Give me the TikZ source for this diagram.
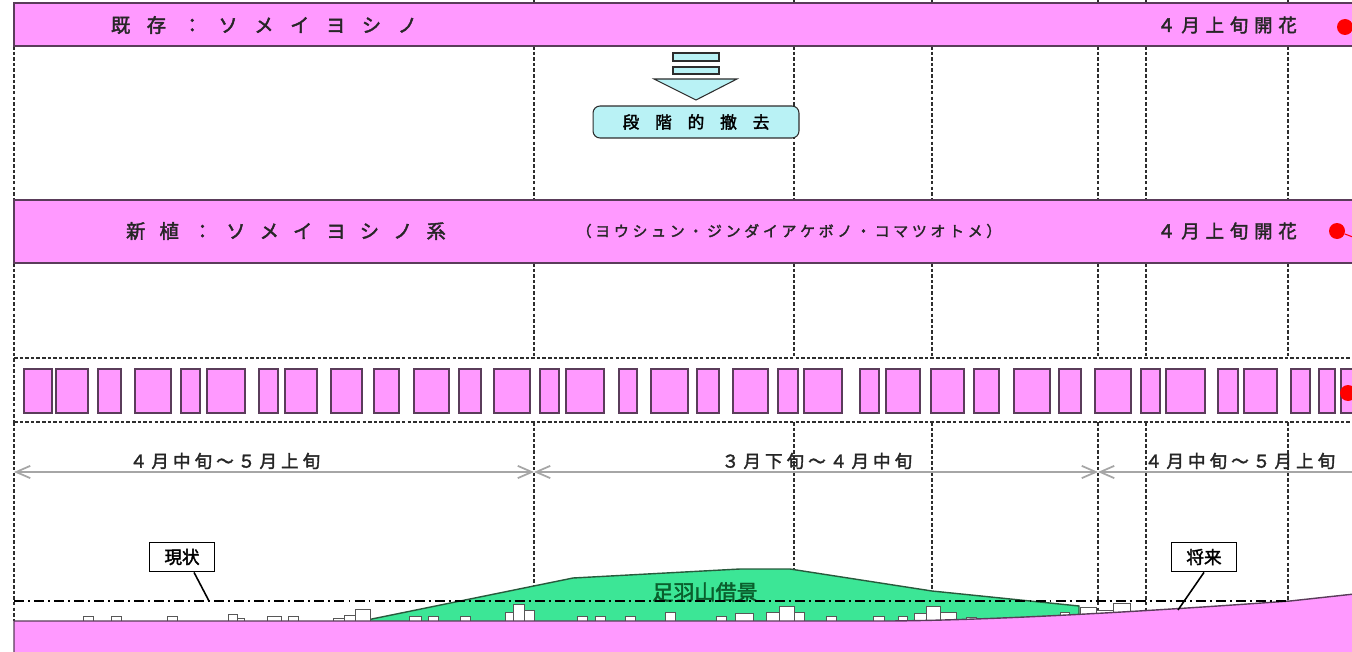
\documentclass[tikz,border=0pt]{standalone}
\usepackage{fontspec}
\setmainfont{Noto Sans CJK JP}[FakeBold=2]
\usetikzlibrary{arrows.meta}

\definecolor{sakura}{RGB}{255,153,255}
\definecolor{edge}{RGB}{90,60,90}
\definecolor{mizu}{RGB}{185,242,245}
\definecolor{yama}{RGB}{60,230,150}
\definecolor{yamaedge}{RGB}{40,90,60}
\definecolor{yamaink}{RGB}{10,95,45}
\definecolor{sumi}{RGB}{45,45,45}

\makeatletter
\newcommand{\spaced}[2]{\@tfor\ch:=#2\do{\ch\hspace{#1}}\unskip}
\makeatother

\begin{document}
\begin{tikzpicture}[x=0.02cm, y=-0.02cm,
		band/.style={fill=sakura, draw=edge, line width=0.8pt},
		tree/.style={fill=sakura, draw=edge, line width=0.6pt},
		guide/.style={draw=sumi, line width=0.6pt, dash pattern=on 2pt off 1.2pt},
		ice/.style={fill=mizu, draw=sumi, line width=0.6pt},
		house/.style={fill=white, draw=sumi!80, line width=0.45pt},
		dim/.style={draw=black!35, line width=1pt, {Straight Barb[length=8pt,width=7pt]}-{Straight Barb[length=8pt,width=7pt]}},
		tag/.style={draw, fill=white, line width=1pt, inner sep=0, minimum width=1.3cm, minimum height=0.58cm, font=\fontsize{10}{12}\selectfont},
		bloom/.style={circle, fill=red, inner sep=0, minimum size=0.32cm},
		label/.style={text=black!85}]
		\useasboundingbox (0,0) rectangle (1352,652);
		\clip (0,0) rectangle (1352,652);

		% guide lines between the bands
		\foreach \x in {534,794,932,1098,1146,1288}
			\draw[guide] (\x,0) -- (\x,3);
		\foreach \x in {14,534,794,932,1098,1146,1288} {
			\draw[guide] (\x,46) -- (\x,200);
			\draw[guide] (\x,263) -- (\x,358);
			\draw[guide] (\x,422) -- (\x,621);
		}
		\draw[guide] (14,358) -- (14,422);
		\draw[guide] (14,358) -- (1360,358);
		\draw[guide] (14,422) -- (1360,422);

		% existing trees
		\draw[band] (14,3) rectangle (1400,46);
		\node[label] (old) at (264,25) {\fontsize{11}{13}\selectfont\spaced{9.4pt}{既存：ソメイヨシノ}};
		\node[label] (oldbloom) at (1227,25) {\fontsize{10.5}{12}\selectfont\spaced{3.3pt}{４月上旬開花}};
		\node[bloom] (dot1) at (1345,27) {};

		\draw[ice] (673,53) rectangle (719,61);
		\draw[ice] (673,67) rectangle (719,74);
		\draw[ice] (654,79) -- (737,79) -- (696,100) -- cycle;
		\node[ice, rounded corners=4pt, minimum width=4.12cm, minimum height=0.64cm] (removal) at (696,122)
			{\fontsize{9.5}{11}\selectfont\spaced{9pt}{段階的撤去}};

		% new planting
		\draw[band] (14,200) rectangle (1400,263);
		\node[label] (new) at (286,231) {\fontsize{11}{13}\selectfont\spaced{8pt}{新植：ソメイヨシノ系}};
		\node[label] (kinds) at (789,231) {\fontsize{8.5}{10}\selectfont\spaced{2.1pt}{（ヨウシュン・ジンダイアケボノ・コマツオトメ）}};
		\node[label] (newbloom) at (1227,231) {\fontsize{10.5}{12}\selectfont\spaced{3.3pt}{４月上旬開花}};
		\node[bloom] (dot2) at (1337,231) {};
		\coordinate (dot2out) at (1358,239);
		\draw[red, line width=0.6pt] (dot2) -- (dot2out);

		% row of trees
		\foreach \a/\b in {24/52, 56/88, 98/121, 135/171, 181/200, 207/245, 259/278, 285/317, 331/362,
				374/399, 414/449, 459/481, 494/530, 540/559, 566/604, 619/637, 651/688, 697/719, 733/768,
				778/798, 804/842, 860/879, 886/920, 931/964, 974/999, 1014/1050, 1059/1081, 1095/1131,
				1141/1160, 1166/1205, 1218/1238, 1244/1277, 1291/1310, 1319/1335, 1341/1365}
			\draw[tree] (\a,369) rectangle (\b,413);
		\node[bloom] (dot3) at (1348,393) {};

		% flowering periods
		\coordinate (d0) at (14,472);
		\coordinate (d1) at (534,472);
		\coordinate (d2) at (1098,472);
		\coordinate (d3) at (1390,472);
		\draw[dim] (d0) -- (d1);
		\draw[dim] (d1) -- (d2);
		\draw[dim] (d2) -- (d3);
		\node[label] (span1) at (225,461) {\fontsize{10}{12}\selectfont\spaced{2.3pt}{４月中旬～５月上旬}};
		\node[label] (span2) at (817,461) {\fontsize{10}{12}\selectfont\spaced{2.3pt}{３月下旬～４月中旬}};
		\node[label] (span3) at (1240,461) {\fontsize{10}{12}\selectfont\spaced{2.3pt}{４月中旬～５月上旬}};

		% section: hill, houses, ground
		\draw[fill=yama, draw=yamaedge, line width=0.8pt] (362,621) -- (573,578) -- (740,569) -- (790,569)
			-- (932,591) -- (1079,606) -- (1079,630) -- (362,630) -- cycle;
		\foreach \a/\b/\t in {83/93/616, 111/121/616, 167/177/616, 228/237/614, 237/244/618, 267/281/616,
				288/298/616, 333/344/618, 344/355/615, 355/370/609, 409/421/616, 428/438/616, 460/470/616,
				505/513/612, 513/524/604, 524/534/610, 577/587/616, 595/605/616, 625/635/616, 665/675/612,
				716/726/616, 735/753/613, 766/779/612, 779/794/606, 794/804/612, 826/836/616, 873/884/616,
				898/907/616, 914/926/613, 926/940/606, 940/956/612, 966/976/617, 1004/1014/617,
				1060/1069/612, 1080/1096/607, 1096/1113/610, 1113/1130/603}
			\draw[house] (\a,\t) rectangle (\b,622);
		\draw[fill=sakura, draw=edge, line width=0.8pt] (14,621) -- (890,621)
			.. controls (1000,620) and (1150,611) .. (1290,601) -- (1400,589) -- (1400,670) -- (14,670) -- cycle;
		\node[text=yamaink, font=\fontsize{12}{14}\selectfont] (hill) at (705,592) {足羽山借景};

		\coordinate (now0) at (14,601);
		\coordinate (now1) at (1288,601);
		\draw[line width=1pt, dash pattern=on 5.7pt off 2.3pt on 1.1pt off 2.3pt] (now0) -- (now1);

		\node[tag] (now) at (182,557) {現状};
		\coordinate (nowfoot) at (209,601);
		\draw[line width=0.9pt] (now.-52) -- (nowfoot);
		\node[tag] (future) at (1204,557) {将来};
		\coordinate (futurefoot) at (1178,610);
		\draw[line width=0.9pt] (future.south) -- (futurefoot);
	\end{tikzpicture}
\end{document}
